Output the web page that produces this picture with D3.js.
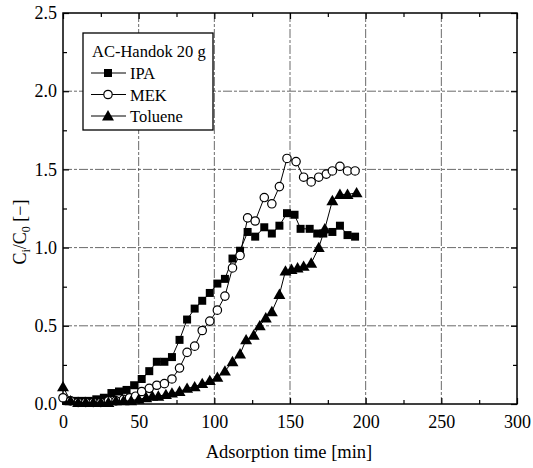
<!DOCTYPE html>
<html>
<head>
<meta charset="utf-8">
<script src="https://cdn.jsdelivr.net/npm/d3@7"></script>
<style>
  html, body { margin: 0; padding: 0; background: #fff; }
  svg { display: block; }
</style>
</head>
<body>
<svg id="chart" width="533" height="468" font-family="Liberation Serif"></svg>
<script>
// Breakthrough curves, AC-Handok 20 g: C_i/C_0 versus adsorption time
const ipaTime = [2, 7, 12, 17, 22, 27, 32, 37, 42, 47, 52, 57, 62, 67, 72, 77, 82, 87, 92, 97, 102, 107, 112, 117, 122, 127, 133, 138, 143, 148, 153, 157, 163, 168, 172, 178, 183, 188, 193];
const ipaValue = [0.02, 0.02, 0.02, 0.02, 0.03, 0.04, 0.07, 0.08, 0.09, 0.12, 0.16, 0.21, 0.27, 0.27, 0.30, 0.41, 0.54, 0.61, 0.66, 0.71, 0.77, 0.80, 0.93, 0.98, 1.10, 1.07, 1.13, 1.09, 1.14, 1.22, 1.21, 1.12, 1.12, 1.09, 1.09, 1.10, 1.14, 1.08, 1.07];

const mekTime = [0, 5, 10, 15, 20, 25, 30, 35, 40, 44, 48, 52, 57, 62, 67, 72, 77, 82, 87, 92, 97, 102, 107, 112, 117, 122, 127, 133, 138, 143, 148, 154, 159, 164, 169, 174, 178, 183, 188, 193];
const mekValue = [0.04, 0.02, 0.01, 0.01, 0.01, 0.01, 0.02, 0.02, 0.03, 0.04, 0.05, 0.08, 0.10, 0.12, 0.13, 0.16, 0.23, 0.33, 0.37, 0.47, 0.53, 0.60, 0.69, 0.87, 0.95, 1.19, 1.17, 1.32, 1.28, 1.39, 1.57, 1.55, 1.45, 1.42, 1.45, 1.47, 1.49, 1.52, 1.49, 1.49];

const tolTime = [0, 5, 10, 15, 20, 25, 30, 35, 40, 45, 50, 55, 59, 63, 68, 72, 77, 82, 87, 92, 97, 102, 107, 112, 117, 121, 126, 130, 134, 138, 143, 147, 151, 155, 159, 164, 169, 173, 178, 183, 188, 194];
const tolValue = [0.11, 0.02, 0.01, 0.01, 0.01, 0.01, 0.01, 0.02, 0.02, 0.02, 0.03, 0.04, 0.05, 0.05, 0.06, 0.07, 0.08, 0.10, 0.11, 0.13, 0.15, 0.17, 0.21, 0.27, 0.32, 0.41, 0.44, 0.50, 0.55, 0.59, 0.70, 0.85, 0.86, 0.87, 0.88, 0.90, 1.00, 1.12, 1.30, 1.34, 1.34, 1.35];

const xTicks = [0, 50, 100, 150, 200, 250, 300];
const yTicks = [0.0, 0.5, 1.0, 1.5, 2.0, 2.5];
const seriesNames = ["IPA", "MEK", "Toluene"];
const legendTitle = "AC-Handok 20 g";
const xTitle = "Adsorption time [min]";

const svg = d3.select("#chart");
const FONT = "Liberation Serif";
const plotL = 63, plotR = 517, plotT = 13, plotB = 404;

const x = d3.scaleLinear().domain([0, 300]).range([plotL, plotR]);
const y = d3.scaleLinear().domain([0, 2.5]).range([plotB, plotT]);

// dashed grid at the major ticks
const grid = svg.append("g").attr("stroke", "#444").attr("stroke-width", 0.8)
  .attr("stroke-dasharray", "9,2,3,2");
xTicks.slice(1, -1).forEach(v => grid.append("line")
  .attr("x1", x(v)).attr("x2", x(v)).attr("y1", plotT).attr("y2", plotB));
yTicks.slice(1, -1).forEach(v => grid.append("line")
  .attr("x1", plotL).attr("x2", plotR).attr("y1", y(v)).attr("y2", y(v)));

// axes with inward ticks on all four sides
const xMinor = d3.range(25, 300, 50);
const yMinor = d3.range(0.25, 2.5, 0.5);
function styleAxis(g) {
  g.select(".domain").remove();
  g.attr("font-family", FONT);
  g.selectAll("line").attr("stroke", "#000").attr("stroke-width", 1.2);
  g.selectAll("text").attr("font-family", FONT).attr("font-size", 18).attr("fill", "#000");
}
svg.append("g").attr("transform", `translate(0,${plotB})`)
  .call(d3.axisBottom(x).tickValues(xTicks).tickSize(-6).tickPadding(11).tickFormat(d3.format("d")))
  .call(styleAxis);
svg.append("g").attr("transform", `translate(0,${plotB})`)
  .call(d3.axisBottom(x).tickValues(xMinor).tickSize(-4).tickFormat(""))
  .call(styleAxis);
svg.append("g").attr("transform", `translate(0,${plotT})`)
  .call(d3.axisTop(x).tickValues(xTicks).tickSize(-6).tickFormat(""))
  .call(styleAxis);
svg.append("g").attr("transform", `translate(0,${plotT})`)
  .call(d3.axisTop(x).tickValues(xMinor).tickSize(-4).tickFormat(""))
  .call(styleAxis);
svg.append("g").attr("transform", `translate(${plotL},0)`)
  .call(d3.axisLeft(y).tickValues(yTicks).tickSize(-6).tickPadding(6).tickFormat(d3.format(".1f")))
  .call(styleAxis);
svg.append("g").attr("transform", `translate(${plotL},0)`)
  .call(d3.axisLeft(y).tickValues(yMinor).tickSize(-4).tickFormat(""))
  .call(styleAxis);
svg.append("g").attr("transform", `translate(${plotR},0)`)
  .call(d3.axisRight(y).tickValues(yTicks).tickSize(-6).tickFormat(""))
  .call(styleAxis);
svg.append("g").attr("transform", `translate(${plotR},0)`)
  .call(d3.axisRight(y).tickValues(yMinor).tickSize(-4).tickFormat(""))
  .call(styleAxis);

// plot frame
svg.append("rect").attr("x", plotL).attr("y", plotT)
  .attr("width", plotR - plotL).attr("height", plotB - plotT)
  .attr("fill", "none").attr("stroke", "#000").attr("stroke-width", 1.5);

// marker shapes
const sq = d3.symbol().type(d3.symbolSquare).size(64);
const tri = d3.symbol().type(d3.symbolTriangle).size(62);
function drawMarker(g, kind, cx, cy) {
  if (kind === "square") {
    g.append("path").attr("d", sq()).attr("transform", `translate(${cx},${cy})`).attr("fill", "#000");
  } else if (kind === "circle") {
    g.append("circle").attr("cx", cx).attr("cy", cy).attr("r", 4.2)
      .attr("fill", "#fff").attr("stroke", "#000").attr("stroke-width", 1.2);
  } else {
    g.append("path").attr("d", tri()).attr("transform", `translate(${cx},${cy + 1})`).attr("fill", "#000");
  }
}

const series = [
  { name: seriesNames[0], t: ipaTime, v: ipaValue, kind: "square" },
  { name: seriesNames[1], t: mekTime, v: mekValue, kind: "circle" },
  { name: seriesNames[2], t: tolTime, v: tolValue, kind: "triangle" }
];

const line = d3.line().x(d => x(d[0])).y(d => y(d[1]));
series.forEach(s => {
  const pts = s.t.map((t, i) => [t, s.v[i]]);
  const g = svg.append("g");
  g.append("path").attr("d", line(pts)).attr("fill", "none")
    .attr("stroke", "#000").attr("stroke-width", 1);
  pts.forEach(p => drawMarker(g, s.kind, x(p[0]), y(p[1])));
});

// legend
const lg = svg.append("g").attr("font-family", FONT);
lg.append("rect").attr("x", 83).attr("y", 33).attr("width", 130).attr("height", 97)
  .attr("fill", "#fff").attr("stroke", "#000").attr("stroke-width", 1.3);
lg.append("text").attr("x", 92).attr("y", 57).attr("font-size", 16.5).text(legendTitle);
series.forEach((s, i) => {
  const ly = 73 + i * 21.5;
  lg.append("line").attr("x1", 91).attr("x2", 126).attr("y1", ly).attr("y2", ly)
    .attr("stroke", "#000").attr("stroke-width", 1);
  drawMarker(lg, s.kind, 108, ly);
  lg.append("text").attr("x", 130).attr("y", ly + 6).attr("font-size", 16.5).text(s.name);
});

// axis titles
svg.append("text").attr("x", 289).attr("y", 458).attr("text-anchor", "middle")
  .attr("font-family", FONT).attr("font-size", 18.5).text(xTitle);

const yt = svg.append("text").attr("transform", "translate(26,232) rotate(-90)")
  .attr("text-anchor", "middle").attr("font-family", FONT).attr("font-size", 18);
yt.append("tspan").text("C");
yt.append("tspan").attr("font-size", 12).attr("dy", 4).text("i");
yt.append("tspan").attr("dy", -4).text("/C");
yt.append("tspan").attr("font-size", 12).attr("dy", 4).text("0");
yt.append("tspan").attr("dy", -4).text(" [\u2212]");
</script>
</body>
</html>
